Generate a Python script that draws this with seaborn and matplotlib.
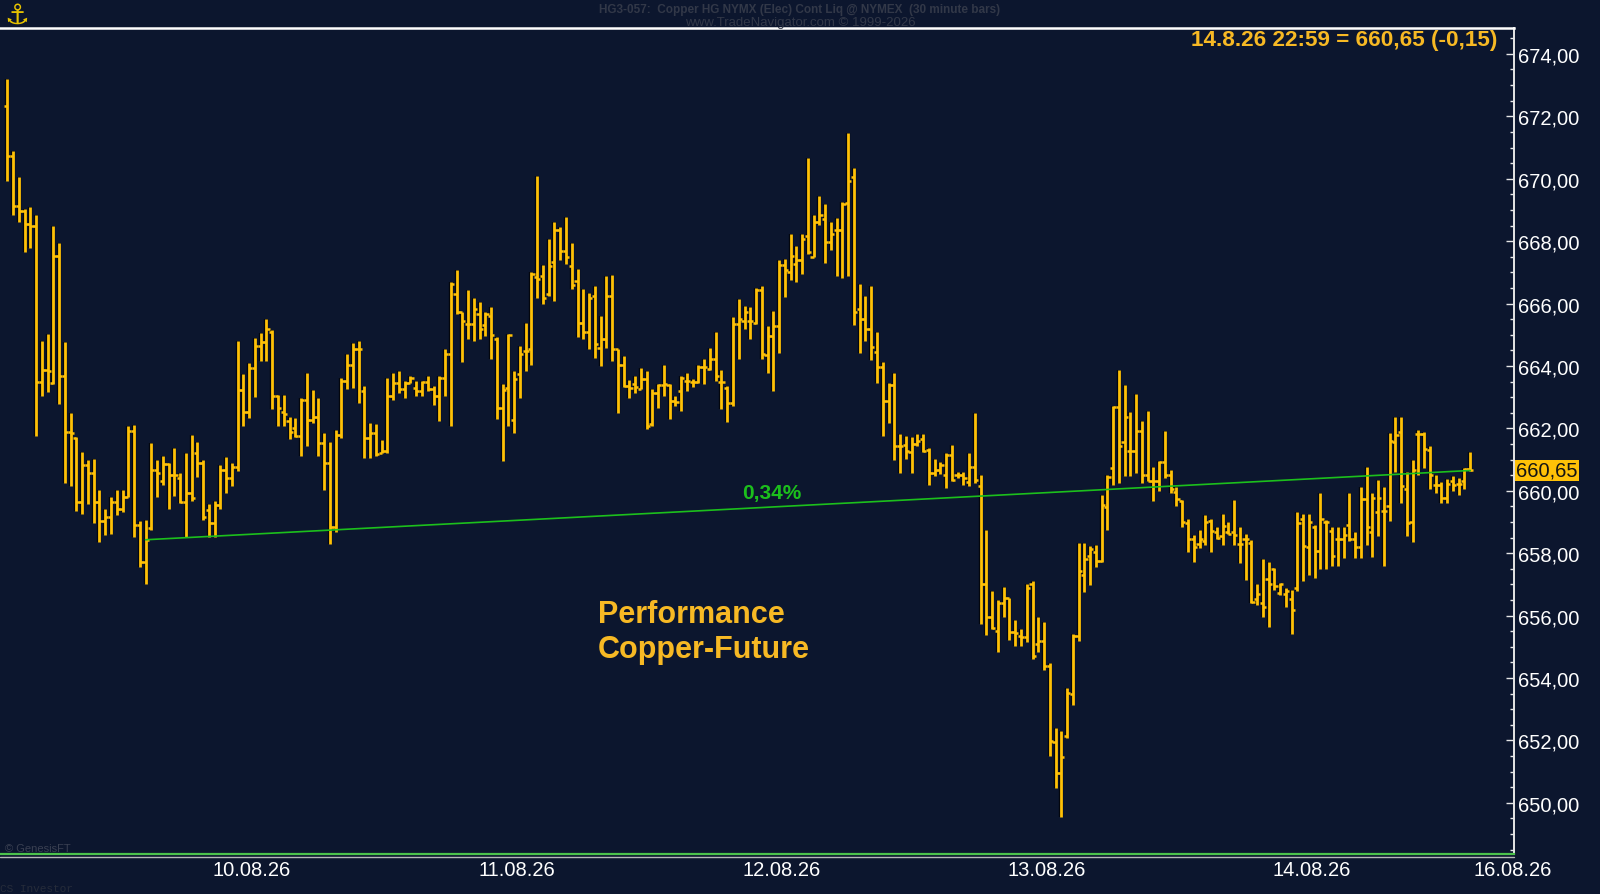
"""
Copper-Future (HG NYMEX, 30-Minuten-Bars) als OHLC-Chart mit Performance-Linie.
Run: python plot.py  ->  out.png
"""
import matplotlib

matplotlib.use("Agg")  # no display, just write the png
import matplotlib.patheffects as pe
import matplotlib.pyplot as plt
import pandas as pd
import seaborn as sns
from matplotlib.lines import Line2D
from matplotlib.ticker import FuncFormatter, MultipleLocator

BG = "#0c162e"
GOLD = "#ffc107"
ORANGE = "#f7b924"
GREEN = "#1cbf1c"
DIM = "#3a4052"

# OHLC of the 30 minute bars (oldest first)
OPENS = [
    672.34, 670.74, 669.11, 668.97, 668.54, 668.49, 663.47, 663.86, 663.45, 667.53,
    663.69, 661.87, 661.69, 659.65, 660.81, 660.58, 659.63, 659.04, 659.15, 659.65,
    659.42, 659.79, 661.93, 658.91, 657.73, 658.80, 660.66, 660.30, 660.86, 660.49,
    660.40, 659.63, 659.93, 661.20, 660.89, 659.39, 658.97, 659.54, 660.66, 660.41,
    660.75, 663.23, 662.51, 663.93, 664.64, 664.78, 665.09, 663.05, 662.51, 662.24,
    662.00, 661.76, 662.92, 662.27, 662.35, 661.53, 660.88, 658.83, 661.78, 663.53,
    664.03, 664.55, 663.20, 661.68, 661.84, 661.22, 661.26, 663.03, 663.45, 663.27,
    663.45, 663.29, 663.19, 663.47, 663.27, 663.03, 663.61, 664.39, 666.29, 665.74,
    665.36, 665.36, 665.66, 665.32, 665.61, 664.87, 662.64, 663.28, 662.26, 663.74,
    664.48, 664.53, 666.85, 666.89, 666.29, 667.32, 668.37, 667.68, 667.20, 666.71,
    665.38, 665.09, 666.23, 664.56, 664.87, 666.23, 664.55, 664.02, 663.37, 663.42,
    663.27, 663.58, 662.14, 663.14, 663.40, 663.40, 662.89, 663.21, 663.53, 663.47,
    663.47, 663.96, 663.90, 664.23, 663.50, 663.30, 662.81, 665.35, 665.45, 665.44,
    665.39, 666.44, 664.35, 664.96, 665.27, 667.24, 667.00, 667.26, 667.38, 668.17,
    667.50, 668.60, 668.70, 667.96, 668.36, 668.36, 669.22, 670.05, 665.83, 665.50,
    665.18, 664.45, 663.98, 662.87, 663.40, 661.42, 661.47, 661.23, 661.50, 661.66,
    661.30, 660.56, 660.66, 660.50, 661.16, 660.50, 660.50, 660.27, 660.75, 660.16,
    657.00, 655.97, 655.50, 656.39, 656.55, 655.48, 655.35, 655.30, 657.01, 655.08,
    655.20, 654.39, 651.94, 650.95, 652.13, 653.48, 655.35, 657.30, 657.92, 658.05,
    657.76, 659.47, 660.72, 662.70, 661.55, 661.28, 661.28, 661.92, 660.50, 660.32,
    660.32, 660.91, 660.50, 659.95, 659.68, 658.96, 658.45, 658.29, 658.40, 659.04,
    658.67, 658.56, 658.67, 658.67, 658.29, 658.47, 658.34, 656.52, 656.40, 657.17,
    657.48, 656.72, 656.69, 656.54, 656.90, 659.09, 658.19, 658.85, 658.08, 659.00,
    658.70, 658.45, 658.45, 658.90, 658.45, 658.19, 659.73, 658.69, 659.31, 659.36,
    659.52, 661.55, 661.87, 660.05, 658.99, 661.82, 661.82, 661.32, 660.18, 660.18,
    659.76, 660.32, 660.21, 660.32, 660.70,
]
HIGHS = [
    673.20, 670.90, 670.05, 669.02, 669.08, 668.84, 664.81, 665.03, 668.47, 667.93,
    664.78, 662.48, 661.71, 661.23, 660.97, 661.02, 660.02, 659.42, 659.79, 660.02,
    660.02, 662.09, 662.11, 659.02, 659.07, 661.53, 660.97, 661.13, 660.88, 661.37,
    660.58, 661.22, 661.78, 661.55, 661.00, 659.56, 659.67, 660.82, 661.08, 660.89,
    664.79, 663.75, 664.09, 664.90, 665.05, 665.51, 665.14, 663.07, 663.07, 662.37,
    662.33, 662.97, 663.78, 663.23, 662.97, 661.84, 661.55, 661.96, 663.62, 664.39,
    664.74, 664.79, 663.37, 662.16, 662.15, 661.62, 663.61, 663.76, 663.83, 663.51,
    663.67, 663.51, 663.51, 663.67, 663.37, 663.67, 664.53, 666.68, 667.09, 665.72,
    666.44, 666.18, 666.05, 665.72, 665.88, 664.94, 663.43, 665.03, 663.83, 664.64,
    665.37, 667.00, 670.10, 667.24, 668.07, 668.62, 668.46, 668.77, 667.95, 667.11,
    666.47, 666.33, 666.56, 665.61, 666.88, 666.93, 664.55, 664.32, 663.56, 663.67,
    663.93, 663.84, 663.27, 663.43, 664.02, 663.43, 663.03, 663.67, 663.77, 663.58,
    664.02, 664.23, 664.57, 665.09, 663.88, 663.37, 665.58, 666.16, 665.92, 665.88,
    666.49, 666.56, 665.27, 665.75, 667.40, 667.43, 668.23, 667.83, 668.23, 670.66,
    668.84, 669.44, 669.19, 668.60, 668.74, 669.24, 671.47, 670.34, 666.64, 666.23,
    666.56, 665.09, 664.14, 663.45, 663.78, 661.82, 661.76, 661.71, 661.82, 661.82,
    661.36, 661.02, 660.91, 661.21, 661.47, 660.60, 660.60, 661.21, 662.48, 660.50,
    658.75, 656.78, 656.51, 656.93, 656.55, 655.86, 655.58, 657.01, 657.10, 655.96,
    655.80, 654.48, 652.39, 652.30, 653.67, 655.41, 658.32, 658.32, 658.22, 658.27,
    659.87, 660.50, 662.73, 663.87, 663.40, 662.51, 663.10, 662.22, 662.56, 660.75,
    660.96, 661.92, 660.66, 660.11, 659.71, 659.10, 658.58, 658.75, 659.22, 659.10,
    658.83, 659.25, 658.99, 659.71, 658.83, 658.61, 658.42, 657.01, 657.81, 657.73,
    657.54, 657.06, 656.90, 656.83, 659.31, 659.25, 659.25, 658.90, 659.92, 659.06,
    658.85, 658.85, 658.85, 659.92, 658.67, 660.11, 660.75, 659.93, 660.35, 660.11,
    661.84, 662.35, 662.35, 660.59, 660.98, 661.96, 661.87, 661.44, 660.50, 660.27,
    660.38, 660.46, 660.40, 660.72, 661.23,
]
LOWS = [
    669.94, 668.84, 668.60, 667.64, 667.78, 661.76, 663.03, 663.18, 663.42, 662.78,
    660.24, 660.15, 659.35, 659.24, 659.57, 658.96, 658.35, 658.58, 658.60, 659.22,
    659.31, 659.79, 658.51, 657.55, 657.02, 658.74, 659.79, 660.18, 659.43, 659.84,
    659.60, 658.51, 659.68, 660.45, 659.07, 658.52, 658.52, 659.40, 659.93, 660.16,
    660.64, 662.06, 662.32, 663.02, 664.15, 664.15, 662.62, 662.09, 662.07, 661.66,
    661.71, 661.10, 661.42, 662.18, 661.10, 660.01, 658.29, 658.69, 661.69, 663.26,
    663.28, 662.80, 661.04, 661.04, 661.10, 661.20, 661.20, 662.91, 663.12, 662.96,
    663.44, 663.03, 663.03, 663.21, 662.76, 662.22, 663.03, 662.09, 665.66, 664.13,
    664.87, 664.79, 664.87, 664.96, 664.23, 662.30, 660.95, 662.07, 661.85, 662.96,
    663.83, 664.02, 666.18, 665.97, 666.24, 666.07, 667.40, 667.26, 666.47, 664.92,
    664.87, 664.53, 664.25, 663.99, 664.56, 664.15, 662.49, 663.32, 662.97, 663.13,
    663.27, 661.98, 662.09, 662.66, 663.05, 662.30, 662.72, 662.55, 663.21, 663.32,
    663.45, 663.43, 663.86, 663.51, 662.62, 662.21, 662.71, 664.23, 665.17, 664.87,
    665.35, 664.23, 663.77, 663.21, 664.41, 666.22, 666.77, 666.68, 666.95, 667.59,
    667.48, 668.51, 667.31, 667.72, 666.87, 666.82, 666.87, 665.32, 664.41, 664.79,
    664.20, 663.44, 661.74, 662.16, 660.99, 660.58, 661.03, 660.58, 661.45, 661.25,
    660.18, 660.48, 660.55, 660.10, 660.30, 660.40, 660.18, 660.14, 660.25, 655.73,
    655.38, 655.58, 654.84, 655.97, 655.22, 655.01, 655.01, 655.16, 654.62, 654.84,
    654.26, 651.50, 650.47, 649.53, 652.08, 653.12, 655.18, 656.75, 656.99, 657.56,
    657.71, 658.75, 660.18, 660.25, 660.48, 660.46, 660.57, 660.25, 660.32, 659.68,
    660.00, 660.40, 659.92, 659.50, 658.83, 658.03, 657.73, 658.16, 658.27, 658.03,
    658.45, 658.27, 658.61, 658.27, 657.70, 657.15, 656.40, 656.35, 655.97, 655.62,
    656.83, 656.66, 656.26, 655.41, 656.79, 657.10, 657.30, 657.20, 657.50, 657.50,
    657.60, 657.60, 657.86, 658.40, 657.86, 657.86, 658.26, 657.89, 658.56, 657.60,
    659.04, 660.59, 659.60, 658.56, 658.35, 660.50, 660.72, 660.05, 659.92, 659.61,
    659.61, 660.00, 659.86, 660.05, 660.64,
]
CLOSES = [
    670.74, 669.11, 668.97, 668.54, 668.49, 663.47, 663.86, 663.83, 667.53, 663.69,
    661.87, 661.85, 659.65, 660.82, 660.58, 659.63, 659.04, 659.15, 659.65, 659.42,
    659.79, 661.93, 658.91, 657.73, 658.43, 660.66, 660.58, 660.86, 660.49, 660.49,
    659.63, 659.93, 659.78, 660.89, 659.15, 658.97, 659.54, 660.66, 660.41, 660.75,
    663.23, 662.51, 663.93, 664.64, 664.78, 665.19, 663.05, 662.64, 662.46, 661.87,
    661.76, 662.92, 662.27, 662.35, 661.53, 660.88, 658.83, 661.78, 663.53, 664.03,
    664.55, 664.55, 661.68, 661.84, 661.17, 661.26, 663.03, 663.45, 663.27, 663.45,
    663.61, 663.19, 663.47, 663.27, 663.03, 663.61, 664.39, 666.63, 665.74, 665.44,
    665.36, 665.82, 665.19, 665.66, 664.98, 662.64, 663.24, 664.98, 663.59, 664.39,
    664.48, 666.95, 666.79, 666.18, 667.19, 668.37, 667.68, 667.48, 666.58, 665.38,
    665.09, 666.18, 664.71, 664.87, 666.23, 664.55, 664.02, 663.37, 663.29, 663.32,
    663.58, 662.09, 663.14, 663.40, 663.43, 662.89, 662.83, 663.62, 663.53, 663.47,
    663.96, 663.96, 664.23, 663.69, 663.50, 662.81, 665.35, 665.51, 665.72, 665.44,
    666.44, 664.39, 664.96, 665.27, 667.24, 667.09, 667.51, 667.38, 668.08, 667.64,
    668.60, 668.85, 667.96, 668.23, 668.36, 669.19, 669.94, 665.72, 665.50, 665.18,
    664.62, 663.98, 662.87, 663.40, 661.42, 661.42, 661.28, 661.50, 661.60, 661.28,
    660.56, 660.66, 660.82, 661.16, 660.36, 660.50, 660.41, 660.75, 660.36, 657.00,
    655.97, 655.60, 656.39, 656.55, 655.48, 655.44, 655.30, 656.90, 654.71, 655.20,
    654.39, 651.99, 650.95, 651.48, 653.53, 655.35, 657.43, 657.82, 658.14, 657.76,
    659.53, 660.45, 662.70, 661.44, 662.35, 661.28, 661.92, 660.50, 660.32, 660.32,
    660.91, 660.50, 660.07, 659.73, 658.99, 658.45, 658.19, 658.47, 658.99, 658.72,
    658.50, 658.88, 658.61, 658.58, 658.29, 658.45, 656.42, 656.69, 656.26, 657.01,
    656.96, 657.01, 656.80, 656.19, 658.96, 658.24, 658.99, 658.08, 659.11, 659.00,
    657.92, 658.45, 658.58, 658.45, 658.19, 659.73, 658.85, 659.76, 659.76, 659.36,
    661.60, 661.79, 660.16, 658.96, 660.66, 661.82, 661.34, 660.50, 660.18, 659.76,
    660.21, 660.18, 660.21, 660.70, 660.65,
]

DATE_LABELS = ["10.08.26", "11.08.26", "12.08.26", "13.08.26", "14.08.26", "16.08.26"]
DATE_POS = [42.5, 88.5, 134.5, 180.5, 226.4, 261.4]  # bar index of each day boundary
PERF_START = 24  # bar where the performance line starts
LAST_STAMP = "14.8.26 22:59"
LAST_CHANGE = -0.15

TITLE = "HG3-057:  Copper HG NYMX (Elec) Cont Liq @ NYMEX  (30 minute bars)"
SUBTITLE = "www.TradeNavigator.com \u00a9 1999-2026"


def de_num(v):
    """Zahl mit Komma als Dezimaltrenner, 2 Stellen."""
    return f"{v:.2f}".replace(".", ",")


def main():
    df = pd.DataFrame({"open": OPENS, "high": HIGHS, "low": LOWS, "close": CLOSES})
    df["bar"] = range(len(df))

    sns.set_theme(style="dark", rc={
        "axes.facecolor": BG,
        "figure.facecolor": BG,
        "savefig.facecolor": BG,
        "axes.grid": False,
    })
    plt.rcParams["font.family"] = ["Liberation Sans", "DejaVu Sans"]

    fig = plt.figure(figsize=(16, 8.95), dpi=100)
    ax = fig.add_axes([0, 40 / 895, 1514 / 1600, 825.7 / 895])

    # OHLC bars: high-low line, open tick left, close tick right
    outline = [pe.Stroke(linewidth=3.1, foreground="#03060d"), pe.Normal()]
    ax.vlines(df["bar"], df["low"], df["high"], color=GOLD, lw=2.0,
              path_effects=outline, zorder=3)
    ax.hlines(df["open"], df["bar"] - 0.55, df["bar"], color=GOLD, lw=1.8, zorder=3)
    ax.hlines(df["close"], df["bar"], df["bar"] + 0.55, color=GOLD, lw=1.8, zorder=3)

    # performance line from the start bar to the last close
    last = df.iloc[-1]
    first = df.iloc[PERF_START]
    perf = pd.DataFrame({"bar": [first["bar"], last["bar"]],
                         "price": [first["close"], last["close"]]})
    sns.lineplot(data=perf, x="bar", y="price", ax=ax, color=GREEN, lw=1.2, zorder=4)
    pct = (last["close"] / first["close"] - 1) * 100
    lab_x = 132.8
    lab_y = first["close"] + (last["close"] - first["close"]) * (lab_x - first["bar"]) / (last["bar"] - first["bar"])
    ax.annotate(f"{pct:.2f}".replace(".", ",") + "%", xy=(lab_x, lab_y),
                xytext=(0, 3.5), textcoords="offset points", ha="center", va="bottom",
                color=GREEN, fontsize=15, fontweight="bold")

    ax.set_xlim(-1.27, 261.6)
    ax.set_ylim(648.36, 674.82)
    ax.set_xlabel("")
    ax.set_ylabel("")

    # price axis on the right, ticks pointing into the plot
    ax.yaxis.tick_right()
    ax.yaxis.set_major_locator(MultipleLocator(2))
    ax.yaxis.set_minor_locator(MultipleLocator(0.5))
    ax.yaxis.set_major_formatter(FuncFormatter(lambda v, _: de_num(v)))
    ax.tick_params(axis="y", which="major", direction="in", length=6, width=1,
                   color="#e6e6e6", labelcolor="white", labelsize=14.5, pad=3,
                   right=True, left=False)
    ax.tick_params(axis="y", which="minor", direction="in", length=3, width=1,
                   color="#e6e6e6", right=True, left=False)

    ax.set_xticks(DATE_POS, DATE_LABELS)
    ax.tick_params(axis="x", length=0, pad=4, labelcolor="white", labelsize=14.5)

    ax.spines["left"].set_visible(False)
    ax.spines["top"].set_color("white")
    ax.spines["top"].set_linewidth(1.8)
    ax.spines["right"].set_color("#e6e6e6")
    ax.spines["right"].set_linewidth(1.4)
    ax.spines["bottom"].set_color("#4cc24c")
    ax.spines["bottom"].set_linewidth(1.6)
    fig.add_artist(Line2D([0, 1514 / 1600], [1 - 857.5 / 895] * 2,
                          color="#b8b8b8", lw=1.0))

    # last price tag on the axis
    ax.annotate(de_num(last["close"]), xy=(1, last["close"]),
                xycoords=("axes fraction", "data"), xytext=(1.5, 0),
                textcoords="offset points", ha="left", va="center",
                fontsize=14.5, color="#141414",
                bbox=dict(boxstyle="square,pad=0.07", fc=GOLD, ec="none"))

    # header / footer texts
    fig.text(1497 / 1600, 1 - 40.7 / 895,
             f"{LAST_STAMP} = {de_num(last['close'])} ({de_num(LAST_CHANGE)})",
             ha="right", va="center", color=ORANGE, fontsize=16.2, fontweight="bold")
    fig.text(598 / 1600, 1 - 600 / 895, "Performance\nCopper-Future",
             ha="left", va="top", color=ORANGE, fontsize=22, fontweight="bold",
             linespacing=1.22)
    fig.text(0.5, 1 - 9.5 / 895, TITLE, ha="center", va="center", color="#323848",
             fontsize=8.5, fontweight="bold",
             family=["Liberation Sans Narrow", "Liberation Sans", "DejaVu Sans"])
    fig.text(0.5, 1 - 23 / 895, SUBTITLE, ha="center", va="center", color="#323848",
             fontsize=9.5,
             family=["Liberation Sans Narrow", "Liberation Sans", "DejaVu Sans"])
    fig.text(17 / 1600, 1 - 16 / 895, "\u2693", ha="center", va="center",
             color="#e6c200", fontsize=20, family=["DejaVu Sans"])
    fig.text(5 / 1600, 1 - 849 / 895, "\u00a9 GenesisFT", ha="left", va="center",
             color=DIM, fontsize=8)
    fig.text(0, 1 - 889 / 895, "CS Investor", ha="left", va="center",
             color="#262c3a", fontsize=8, family=["Liberation Mono", "DejaVu Sans Mono"])

    fig.savefig("out.png", dpi=100)
    plt.close(fig)


if __name__ == "__main__":
    main()
